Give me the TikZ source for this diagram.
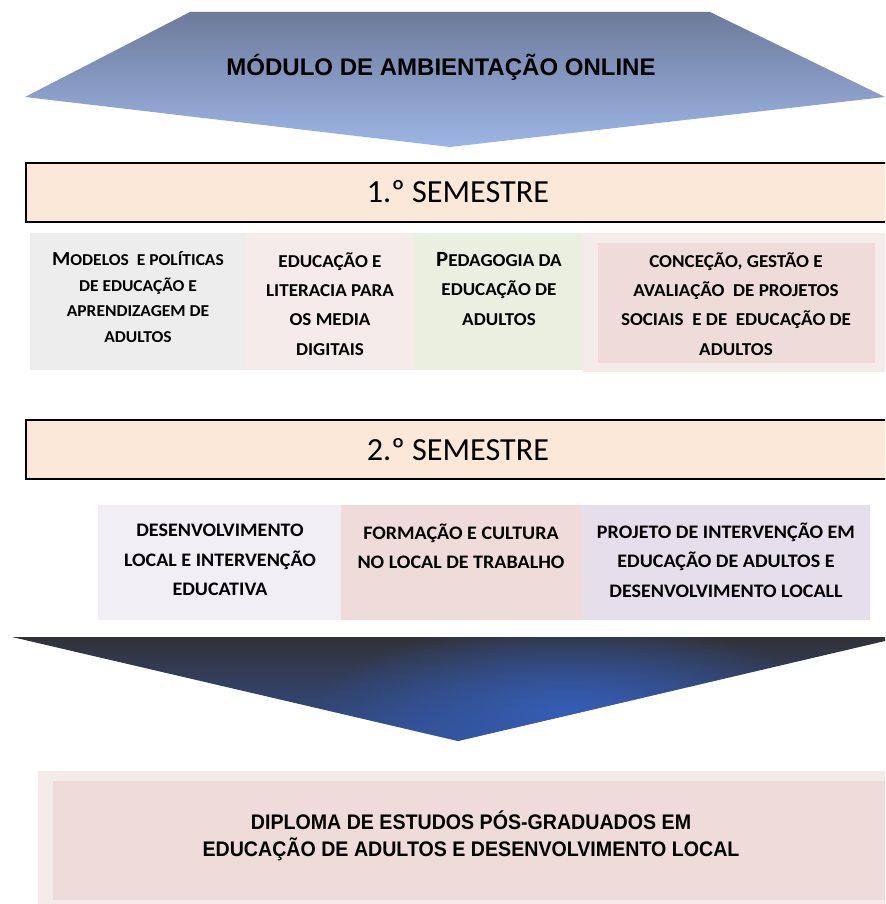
\documentclass[tikz,border=0pt]{standalone}
\usepackage{fontspec}
\setmainfont{Carlito}
\newfontfamily\coursefont[FakeStretch=1.05]{Carlito}
\newfontfamily\titlefont{Liberation Sans}
\newfontfamily\diplfont[FakeStretch=0.93]{Liberation Sans}
\usepackage{tikz}
\usetikzlibrary{fadings}

\definecolor{semfill}{HTML}{FCE8D9}
\definecolor{grayfill}{HTML}{EDEDED}
\definecolor{pinkpale}{HTML}{F6EBEB}
\definecolor{pinkmid}{HTML}{F0DBDB}
\definecolor{greenpale}{HTML}{EBEFE0}
\definecolor{lavpale}{HTML}{F1EFF4}
\definecolor{lavmid}{HTML}{E5DFEC}
\definecolor{topdark}{HTML}{6D7B9B}
\definecolor{toplight}{HTML}{9DB5E5}
\definecolor{botdark}{HTML}{323237}
\definecolor{botmid}{HTML}{313F6E}
\definecolor{botblue}{HTML}{324F92}
\definecolor{botglow}{HTML}{355EB6}

\tikzfading[name=glowfade, inner color=transparent!0, outer color=transparent!100]

\tikzset{
    course/.style={align=center, font=\coursefont\bfseries\fontsize{15.5}{25}\selectfont},
    semester/.style={font=\fontsize{27.5}{32}\selectfont},
}

\begin{document}
\begin{tikzpicture}[x=0.03cm, y=-0.03cm]

        % Page size (pixels of the original)
        \clip (0,0) rectangle (885,904);

        % Row limits
        \def\rowAtop{233}
        \def\rowAbot{370}
        \def\rowBtop{505}
        \def\rowBbot{620}

        % Top chevron (online module)
        \shade[top color=topdark, bottom color=toplight]
            (190,12) -- (710,12) -- (885,97) -- (450,147) -- (25,97) -- cycle;
        \node (modulo) at (441,67)
            {\titlefont\bfseries\fontsize{20.5}{24}\selectfont MÓDULO DE AMBIENTAÇÃO ONLINE};

        % First semester bar
        \draw[line width=1.6pt, fill=semfill] (26,163) rectangle (890,222);
        \node[semester] (sem1) at (458,192) {1.º SEMESTRE};

        % First semester courses
        \fill[grayfill] (30,\rowAtop) rectangle (246,\rowAbot);
        \fill[pinkpale] (246,\rowAtop) rectangle (414,\rowAbot);
        \fill[greenpale] (414,\rowAtop) rectangle (583,\rowAbot);
        \fill[pinkpale] (583,\rowAtop) rectangle (885,372);
        \fill[pinkmid] (598,243) rectangle (875,363);

        \node[course, font=\coursefont\bfseries\fontsize{14.2}{22}\selectfont] (modelos) at (138,297)
            {{\fontsize{17}{22}\selectfont M}ODELOS\ \ E POLÍTICAS\\DE EDUCAÇÃO E\\APRENDIZAGEM DE\\ADULTOS};
        \node[course] (literacia) at (330,304)
            {EDUCAÇÃO E\\LITERACIA PARA\\OS MEDIA\\DIGITAIS};
        \node[course] (pedagogia) at (499,289)
            {{\fontsize{18.5}{25}\selectfont P}EDAGOGIA DA\\EDUCAÇÃO DE\\ADULTOS};
        \node[course] (projetos) at (736,304)
            {CONCEÇÃO, GESTÃO E\\AVALIAÇÃO\ \ DE PROJETOS\\SOCIAIS\ \ E DE\ \ EDUCAÇÃO DE\\ADULTOS};

        % Second semester bar
        \draw[line width=1.6pt, fill=semfill] (26,420) rectangle (890,479);
        \node[semester] (sem2) at (458,450) {2.º SEMESTRE};

        % Second semester courses
        \fill[lavpale] (98,\rowBtop) rectangle (341,\rowBbot);
        \fill[pinkmid] (341,\rowBtop) rectangle (582,\rowBbot);
        \fill[lavmid] (582,\rowBtop) rectangle (870,\rowBbot);

        \node[course, font=\coursefont\bfseries\fontsize{16.3}{25}\selectfont] (local) at (220,560)
            {DESENVOLVIMENTO\\LOCAL E INTERVENÇÃO\\EDUCATIVA};
        \node[course, font=\coursefont\bfseries\fontsize{16.3}{25}\selectfont] (cultura) at (461,546)
            {FORMAÇÃO E CULTURA\\NO LOCAL DE TRABALHO};
        \node[course, font=\coursefont\bfseries\fontsize{16.3}{25}\selectfont] (intervencao) at (726,560)
            {PROJETO DE INTERVENÇÃO EM\\EDUCAÇÃO DE ADULTOS E\\DESENVOLVIMENTO LOCALL};

        % Bottom chevron, with a soft glow
        \begin{scope}
            \clip (12,637) -- (885,637) -- (885,641) -- (458,741) -- cycle;
            \shade[top color=botdark, middle color=botmid, bottom color=botblue]
                (0,637) rectangle (885,741);
            \fill[botglow, path fading=glowfade] (570,712) ellipse (260 and 90);
        \end{scope}

        % Diploma
        \fill[pinkpale] (38,771) rectangle (885,904);
        \fill[pinkmid] (53,781) rectangle (885,900);
        \node[align=center, font=\diplfont\bfseries\fontsize{18}{23}\selectfont] (diploma) at (471,836)
            {DIPLOMA DE ESTUDOS PÓS-GRADUADOS EM\\EDUCAÇÃO DE ADULTOS E DESENVOLVIMENTO LOCAL};

    \end{tikzpicture}
\end{document}
